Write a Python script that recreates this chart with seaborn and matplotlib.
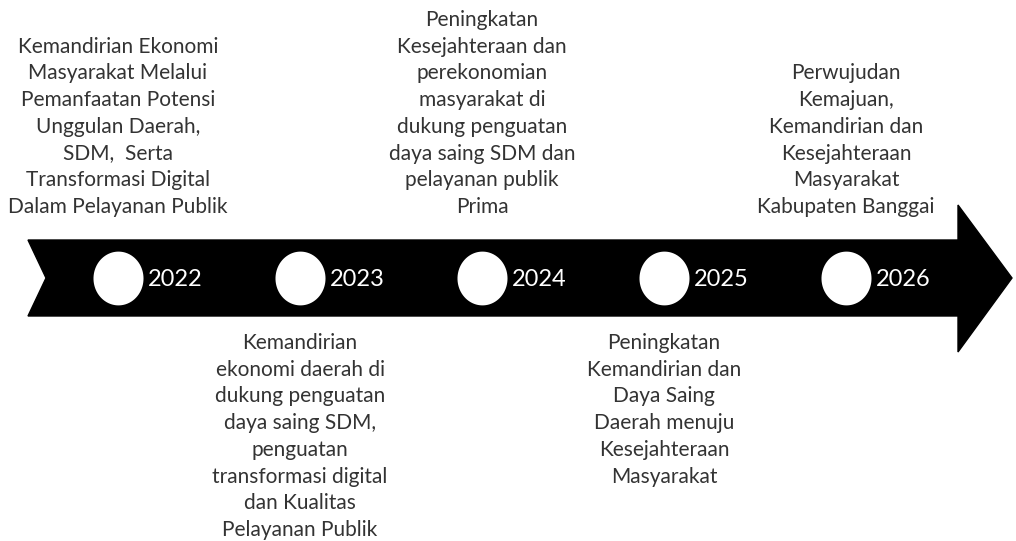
import matplotlib.pyplot as plt
import numpy as np
import pandas as pd
import seaborn as sns
from matplotlib.path import Path

years = ["2022", "2023", "2024", "2025", "2026"]
sides = ["top", "bottom", "top", "bottom", "top"]
descriptions = [
    "Kemandirian Ekonomi\nMasyarakat Melalui\nPemanfaatan Potensi\nUnggulan Daerah,\nSDM,  Serta\nTransformasi Digital\nDalam Pelayanan Publik",
    "Kemandirian\nekonomi daerah di\ndukung penguatan\ndaya saing SDM,\npenguatan\ntransformasi digital\ndan Kualitas\nPelayanan Publik",
    "Peningkatan\nKesejahteraan dan\nperekonomian\nmasyarakat di\ndukung penguatan\ndaya saing SDM dan\npelayanan publik\nPrima",
    "Peningkatan\nKemandirian dan\nDaya Saing\nDaerah menuju\nKesejahteraan\nMasyarakat",
    "Perwujudan\nKemajuan,\nKemandirian dan\nKesejahteraan\nMasyarakat\nKabupaten Banggai",
]

sns.set_theme(style="white")
plt.rcParams["font.family"] = ["Lato", "DejaVu Sans"]

W, H = 1016, 541
fig = plt.figure(figsize=(W / 100, H / 100), dpi=100)
ax = fig.add_axes([0, 0, 1, 1])

# x axis in "step" units: index i sits at pixel 118 + 182 * i
X0, STEP = 118, 182
ax.set_xlim((0 - X0) / STEP, (W - X0) / STEP)
ax.set_ylim(H, 0)
ax.axis("off")


def px(x):
    return (np.asarray(x, dtype=float) - X0) / STEP


# arrow shape (pixels)
ax_x = [28, 958, 958, 1012, 958, 958, 28, 46]
ax_y = [240, 240, 205, 278, 352, 316, 316, 278]
ax.fill(px(ax_x), ax_y, color="black", zorder=1)

df = pd.DataFrame({"idx": np.arange(len(years)), "year": years,
                   "side": sides, "desc": descriptions})
df["y"] = 278

# slightly tall ellipse marker
t = np.linspace(0, 2 * np.pi, 80)
ell = Path(np.column_stack([np.cos(t) * 0.93, np.sin(t)]))
sns.scatterplot(data=df, x="idx", y="y", ax=ax, marker=ell, s=1500,
                color="white", edgecolor="white", linewidth=0, zorder=2,
                legend=False)

for _, r in df.iterrows():
    ax.text(r["idx"] + 30 / STEP, 280, r["year"], color="white",
            fontsize=17, ha="left", va="center", zorder=3)
    if r["side"] == "top":
        ax.text(r["idx"], 217, r["desc"], ha="center", va="bottom",
                fontsize=15, color="#333333", linespacing=1.42, zorder=3)
    else:
        ax.text(r["idx"], 333, r["desc"], ha="center", va="top",
                fontsize=15, color="#333333", linespacing=1.42, zorder=3)

fig.savefig("out.png", dpi=100, facecolor="white")
